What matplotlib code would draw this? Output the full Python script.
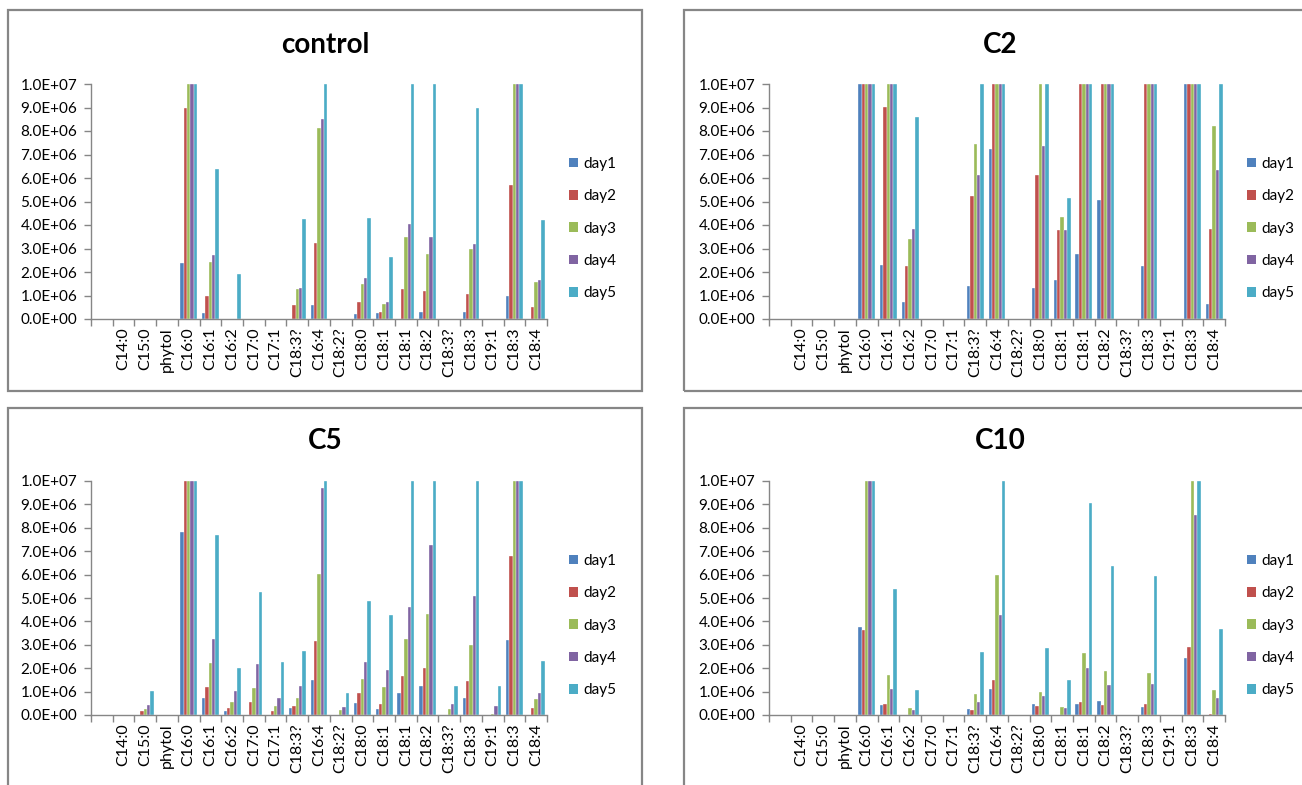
import matplotlib
matplotlib.use("Agg")
import matplotlib.pyplot as plt
from matplotlib.patches import Rectangle, Patch
from matplotlib.ticker import FuncFormatter, FixedLocator
import numpy as np

categories = ["", "C14:0", "C15:0", "phytol", "C16:0", "C16:1", "C16:2", "C17:0",
              "C17:1", "C18:3?", "C16:4", "C18:2?", "C18:0", "C18:1", "C18:1",
              "C18:2", "C18:3?", "C18:3", "C19:1", "C18:3", "C18:4"]
series_names = ["day1", "day2", "day3", "day4", "day5"]
colors = ["#4F81BD", "#C0504D", "#9BBB59", "#8064A2", "#4BACC6"]

# values in units of 1e6 (bars above 10 are clipped at the axis maximum)
control_day1 = [0, 0, 0, 0, 2.37, 0.25, 0, 0, 0, 0, 0.60, 0, 0.21, 0.25, 0, 0.28, 0, 0.28, 0, 1.00, 0]
control_day2 = [0, 0, 0, 0, 8.97, 0.96, 0, 0, 0, 0.60, 3.23, 0, 0.71, 0.28, 1.27, 1.20, 0, 1.06, 0, 5.69, 0.50]
control_day3 = [0, 0, 0, 0, 10, 2.42, 0, 0, 0, 1.27, 8.12, 0, 1.50, 0.64, 3.51, 2.76, 0, 2.97, 0, 10, 1.56]
control_day4 = [0, 0, 0, 0, 10, 2.72, 0, 0, 0, 1.32, 8.50, 0, 1.74, 0.71, 4.04, 3.51, 0, 3.19, 0, 10, 1.67]
control_day5 = [0, 0, 0, 0, 10, 6.37, 1.93, 0, 0, 4.24, 10, 0, 4.29, 2.65, 10, 10, 0, 8.97, 0, 10, 4.20]

c2_day1 = [0, 0, 0, 0, 10, 2.28, 0.71, 0, 0, 1.39, 7.25, 0, 1.32, 1.64, 2.75, 5.06, 0, 2.25, 0, 10, 0.64]
c2_day2 = [0, 0, 0, 0, 10, 9.04, 2.25, 0, 0, 5.23, 10, 0, 6.13, 3.77, 10, 10, 0, 10, 0, 10, 3.82]
c2_day3 = [0, 0, 0, 0, 10, 10, 3.40, 0, 0, 7.46, 10, 0, 10, 4.36, 10, 10, 0, 10, 0, 10, 8.22]
c2_day4 = [0, 0, 0, 0, 10, 10, 3.82, 0, 0, 6.12, 10, 0, 7.35, 3.80, 10, 10, 0, 10, 0, 10, 6.35]
c2_day5 = [0, 0, 0, 0, 10, 10, 8.61, 0, 0, 10, 10, 0, 10, 5.13, 10, 10, 0, 10, 0, 10, 10]

c5_day1 = [0, 0, 0, 0, 7.81, 0.74, 0.16, 0, 0, 0.28, 1.50, 0, 0.52, 0.24, 0.95, 1.24, 0, 0.74, 0, 3.21, 0]
c5_day2 = [0, 0, 0.16, 0, 10, 1.20, 0.28, 0.57, 0.16, 0.38, 3.18, 0, 0.92, 0.45, 1.67, 1.99, 0, 1.47, 0, 6.78, 0.28]
c5_day3 = [0, 0, 0.24, 0, 10, 2.21, 0.57, 1.17, 0.38, 0.74, 6.04, 0.20, 1.53, 1.20, 3.24, 4.33, 0.24, 3.00, 0.05, 10, 0.68]
c5_day4 = [0, 0, 0.41, 0, 10, 3.24, 1.03, 2.18, 0.74, 1.24, 9.70, 0.34, 2.28, 1.92, 4.61, 7.27, 0.48, 5.08, 0.38, 10, 0.92]
c5_day5 = [0, 0, 1.03, 0, 10, 7.69, 2.02, 5.26, 2.28, 2.72, 10, 0.96, 4.89, 4.26, 10, 10, 1.24, 10, 1.24, 10, 2.32]

c10_day1 = [0, 0, 0, 0, 3.75, 0.41, 0, 0, 0, 0.24, 1.09, 0, 0.45, 0, 0.45, 0.59, 0, 0.34, 0, 2.43, 0]
c10_day2 = [0, 0, 0, 0, 3.64, 0.45, 0, 0, 0, 0.20, 1.50, 0, 0.38, 0, 0.57, 0.41, 0, 0.45, 0, 2.90, 0.05]
c10_day3 = [0, 0, 0, 0, 10, 1.71, 0.28, 0, 0, 0.88, 5.97, 0, 0.99, 0.34, 2.64, 1.90, 0, 1.81, 0, 10, 1.06]
c10_day4 = [0, 0, 0, 0, 10, 1.13, 0.20, 0, 0, 0.55, 4.26, 0, 0.81, 0.31, 2.02, 1.27, 0, 1.32, 0, 8.56, 0.71]
c10_day5 = [0, 0, 0, 0, 10, 5.37, 1.06, 0, 0, 2.70, 10, 0, 2.86, 1.50, 9.07, 6.38, 0, 5.95, 0, 10, 3.68]

titles = ["control", "C2", "C5", "C10"]
panel_data = [
    [control_day1, control_day2, control_day3, control_day4, control_day5],
    [c2_day1, c2_day2, c2_day3, c2_day4, c2_day5],
    [c5_day1, c5_day2, c5_day3, c5_day4, c5_day5],
    [c10_day1, c10_day2, c10_day3, c10_day4, c10_day5],
]

W, H = 1302, 785
fig = plt.figure(figsize=(W / 100, H / 100), dpi=100)
FONT = "Lato"
GREY = "#868686"

def fx(px):
    return px / W

def fy(py):
    return 1 - py / H

# (border l, t, r, b, axes l, t, r, b, title x, title y) in pixels
panels = [
    (8, 10, 642, 391, 91, 84, 547, 319, 325, 45),
    (684, 10, 1320, 391, 769, 84, 1225, 319, 1000, 45),
    (8, 408, 642, 800, 91, 481, 547, 715, 325, 441),
    (684, 408, 1320, 800, 769, 481, 1225, 715, 1000, 441),
]

for (bl, bt, br, bb, al, at, ar, ab, tx, ty), title, data in zip(panels, titles, panel_data):
    fig.patches.append(Rectangle((fx(bl), fy(bb)), fx(br - bl), fy(bt) - fy(bb),
                                 transform=fig.transFigure, fill=False,
                                 edgecolor=GREY, linewidth=1.6, zorder=0))
    ax = fig.add_axes([fx(al), fy(ab), fx(ar - al), fy(at) - fy(ab)])
    n = len(categories)
    x = np.arange(n)
    bw = 0.154
    for i, (vals, col, name) in enumerate(zip(data, colors, series_names)):
        v = np.array(vals) * 1e6
        ax.bar(x + (i - 2) * bw, v, width=bw, color=col, label=name,
               edgecolor="white", linewidth=0.25)
    ax.set_xlim(-0.5, n - 0.5)
    ax.set_ylim(0, 1.0e7)
    ax.set_yticks(np.arange(0, 1.0e7 + 1, 1.0e6))
    ax.yaxis.set_major_formatter(FuncFormatter(lambda v, p: f"{v:.1E}"))
    ax.set_xticks(x)
    ax.set_xticklabels(categories, rotation=90, fontsize=11.5, family=FONT)
    ax.xaxis.set_minor_locator(FixedLocator(np.arange(-0.5, n, 1.0)))
    ax.tick_params(axis="x", which="major", length=0, pad=6)
    ax.tick_params(axis="x", which="minor", length=5, color=GREY, width=1)
    ax.tick_params(axis="y", length=5, color=GREY, width=1, pad=5)
    for lab in ax.get_yticklabels():
        lab.set_fontfamily(FONT)
        lab.set_fontsize(11)
    for s in ["top", "right"]:
        ax.spines[s].set_visible(False)
    for s in ["left", "bottom"]:
        ax.spines[s].set_color(GREY)
        ax.spines[s].set_linewidth(1)
    fig.text(fx(tx), fy(ty), title, ha="center", va="center",
             fontsize=20, fontweight="bold", family=FONT)
    handles = [Patch(facecolor=c, edgecolor="none") for c in colors]
    ax.legend(handles, series_names, loc="upper left",
              bbox_to_anchor=(fx(ar + 22), fy(at + 73)),
              bbox_transform=fig.transFigure, frameon=False,
              prop={"family": FONT, "size": 11}, handlelength=0.6,
              handleheight=0.6, handletextpad=0.35, labelspacing=1.2,
              borderpad=0, borderaxespad=0)

fig.savefig("out.png", dpi=100)
